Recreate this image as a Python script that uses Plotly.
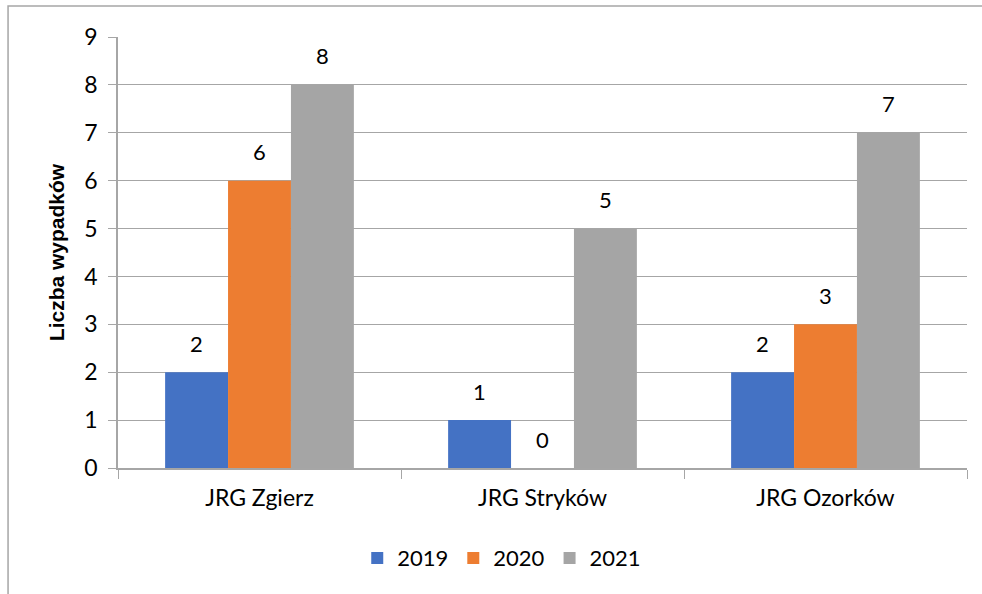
import plotly.graph_objects as go

categories = ["JRG Zgierz", "JRG Stryków", "JRG Ozorków"]
years = ["2019", "2020", "2021"]
values_2019 = [2, 1, 2]
values_2020 = [6, 0, 3]
values_2021 = [8, 5, 7]
y_ticks = [0, 1, 2, 3, 4, 5, 6, 7, 8, 9]

series = [values_2019, values_2020, values_2021]
colors = ["#4472C4", "#ED7D31", "#A5A5A5"]
FONT = "Lato, Carlito, Calibri, sans-serif"
FS = 23

fig = go.Figure()
for name, vals, col in zip(years, series, colors):
    fig.add_trace(go.Bar(name=name, x=categories, y=vals, marker=dict(color=col, line=dict(width=0))))

bargap = 0.333
n = len(series)
w = (1 - bargap) / n
for i, vals in enumerate(series):
    for j, v in enumerate(vals):
        fig.add_annotation(x=j + (i - (n - 1) / 2) * w, y=v, text=str(v), showarrow=False,
                           yanchor="middle", yshift=29, font=dict(size=FS - 1, color="#000000", family=FONT))

# outer chart border
fig.add_shape(type="rect", xref="paper", yref="paper", x0=-0.1295, x1=1.03, y0=-0.31, y1=1.072,
              line=dict(color="#A6A6A6", width=1.5), layer="below")

fig.update_layout(
    width=982, height=594,
    margin=dict(l=118, r=15, t=37, b=126),
    paper_bgcolor="white", plot_bgcolor="white",
    barmode="group", bargap=bargap, bargroupgap=0,
    font=dict(family=FONT, size=FS, color="#000000"),
    showlegend=True,
    legend=dict(orientation="h", x=0.452, xanchor="center", y=-0.209, yanchor="middle",
                font=dict(size=FS - 1, family=FONT), traceorder="normal", itemwidth=30),
    xaxis=dict(type="category", showline=True, linecolor="#A6A6A6", linewidth=1.5,
               ticks="outside", tickson="boundaries", ticklen=9, tickcolor="#A6A6A6",
               tickfont=dict(size=FS, family=FONT), showgrid=False, ticklabelstandoff=9),
    yaxis=dict(range=[0, 9], tickvals=y_ticks, showline=True, linecolor="#A6A6A6", linewidth=1.5,
               ticks="outside", ticklen=8, tickcolor="#A6A6A6", showgrid=True, gridcolor="#A6A6A6",
               gridwidth=1.2, zeroline=False, tickfont=dict(size=FS, family=FONT), ticklabelstandoff=6,
               title=dict(text="<b>Liczba wypadków</b>",
                          font=dict(size=21, family="Liberation Sans, Arial, sans-serif"), standoff=14)),
)

fig.write_html("out.html", config={"displayModeBar": False})

# remove default browser body margin so the figure sits at the page origin
with open("out.html", "r", encoding="utf-8") as f:
    html = f.read()
html = html.replace("<head>", "<head><style>body{margin:0;padding:0;}</style>", 1)
with open("out.html", "w", encoding="utf-8") as f:
    f.write(html)
